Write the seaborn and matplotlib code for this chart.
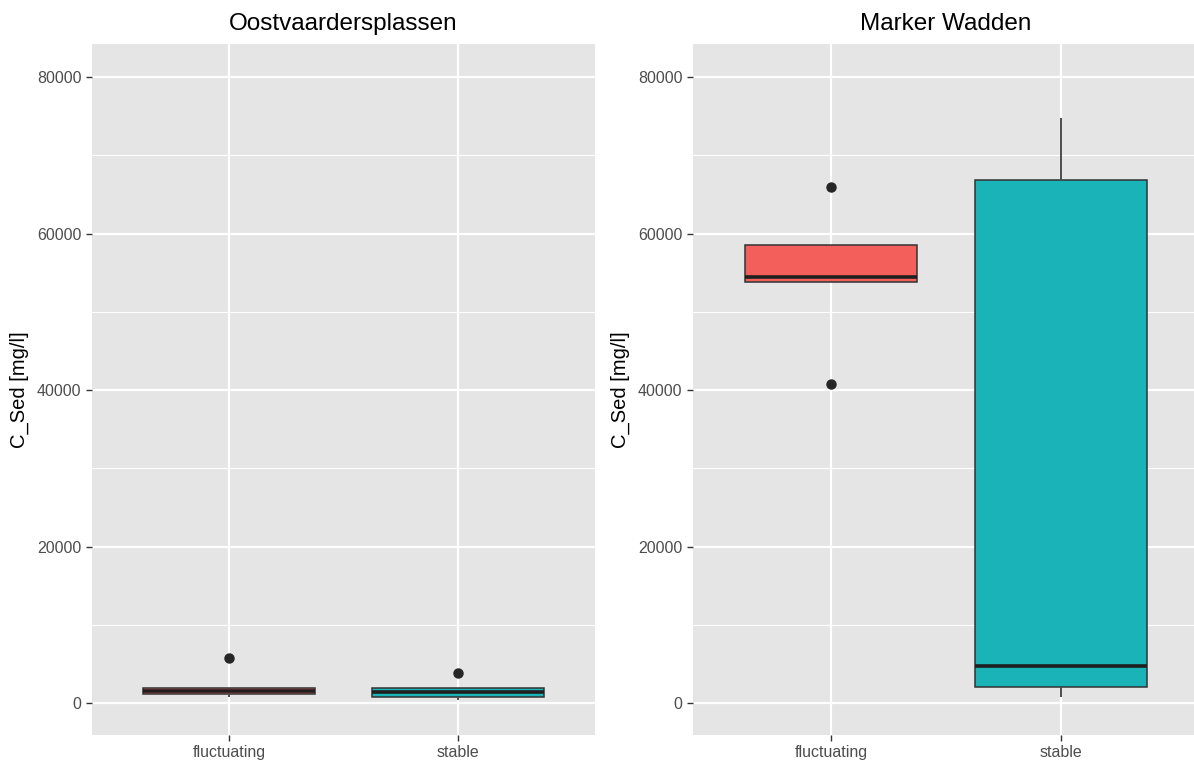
import numpy as np
import pandas as pd
import matplotlib
matplotlib.use("Agg")
import matplotlib.pyplot as plt
import seaborn as sns

# Sediment concentration per site and water-level regime
conditions = ["fluctuating", "stable"]
sites = ["Oostvaardersplassen", "Marker Wadden"]

ovp_fluctuating = [770, 1150, 1530, 1880, 5710]
ovp_stable = [380, 730, 1450, 1880, 3870]
mw_fluctuating = [40770, 53760, 54400, 58530, 65980]
mw_stable = [730, 2080, 4730, 66840, 74760]

y_ticks = [0, 20000, 40000, 60000, 80000]
y_minor = [10000, 30000, 50000, 70000]
y_label = "C_Sed [mg/l]"

palette = {"fluctuating": "#F35F5B", "stable": "#19B3B8"}

rows = []
for site, groups in zip(sites, [(ovp_fluctuating, ovp_stable), (mw_fluctuating, mw_stable)]):
    for cond, vals in zip(conditions, groups):
        for v in vals:
            rows.append({"site": site, "condition": cond, "C_Sed": v})
df = pd.DataFrame(rows)

sns.set_theme(style="white")
plt.rcParams["font.family"] = ["Liberation Sans", "DejaVu Sans"]

W, H = 1194, 766
fig = plt.figure(figsize=(W / 100, H / 100), dpi=100)

panel_boxes = [
    (92 / W, 31 / H, 503 / W, 691 / H),
    (693 / W, 31 / H, 506 / W, 691 / H),
]

for site, rect in zip(sites, panel_boxes):
    ax = fig.add_axes(rect)
    ax.set_facecolor("#E5E5E5")
    sub = df[df["site"] == site]

    # ggplot-like grid
    for v in y_minor:
        ax.axhline(v, color="white", lw=0.8, zorder=0)
    for v in y_ticks:
        ax.axhline(v, color="white", lw=1.6, zorder=0)
    for i in range(len(conditions)):
        ax.axvline(i, color="white", lw=1.6, zorder=0)

    sns.boxplot(
        data=sub, x="condition", y="C_Sed", hue="condition", order=conditions,
        hue_order=conditions, palette=palette, width=0.75, dodge=False,
        legend=False, saturation=1, showcaps=False, whis=1.5, ax=ax,
        linecolor="#333333", linewidth=1.1,
        medianprops={"color": "#1F1F1F", "linewidth": 2.6},
        whiskerprops={"color": "#4D4D4D", "linewidth": 1.4},
        flierprops={"marker": "o", "markerfacecolor": "#262626",
                    "markeredgecolor": "#262626", "markersize": 6.5},
        zorder=3,
    )

    ax.set_xlim(-0.6, 1.6)
    ax.set_ylim(-4090, 84220)
    ax.set_yticks(y_ticks)
    ax.set_yticklabels([str(t) for t in y_ticks])
    ax.set_xlabel("")
    ax.set_ylabel(y_label, fontsize=14.5, color="black", labelpad=6)
    ax.set_title(site, fontsize=17.5, color="black", pad=10)
    ax.tick_params(axis="both", which="major", length=4.5, width=1.0,
                   color="#333333", labelsize=11.5, labelcolor="#4D4D4D",
                   left=True, bottom=True, pad=3)
    for s in ax.spines.values():
        s.set_visible(False)
    ax.grid(False)

fig.savefig("out.png", dpi=100, facecolor="white")
